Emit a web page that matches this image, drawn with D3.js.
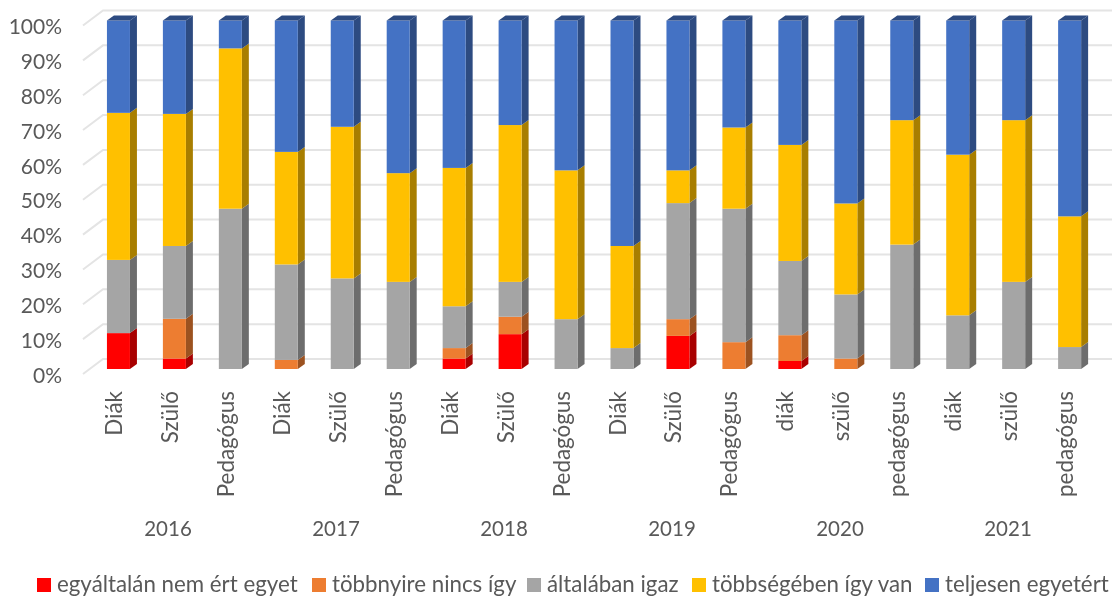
<!DOCTYPE html>
<html>
  <head>
    <meta charset="utf-8">
    <title>Stacked bars</title>
    <script src="https://cdn.jsdelivr.net/npm/d3@7"></script>
    <style>
      html, body { margin: 0; padding: 0; background: #fff; }
      svg { display: block; filter: blur(0.4px); }
      text { font-family: Lato, "Open Sans", sans-serif; fill: #595959; }
      .axis path, .axis line { display: none; }
    </style>
  </head>
  <body>
    <div id="chart"></div>
    <script>
      var groups = ["Diák", "Szülő", "Pedagógus", "Diák", "Szülő", "Pedagógus", "Diák", "Szülő", "Pedagógus",
                    "Diák", "Szülő", "Pedagógus", "diák", "szülő", "pedagógus", "diák", "szülő", "pedagógus"];
      var years = ["2016", "2017", "2018", "2019", "2020", "2021"];
      var seriesNames = ["egyáltalán nem ért egyet", "többnyire nincs így", "általában igaz", "többségében így van", "teljesen egyetért"];

      // percent of each answer, bar by bar
      var nemErt    = [10.3, 3, 0, 0, 0, 0, 3, 10, 0, 0, 9.5, 0, 2.3, 0, 0, 0, 0, 0];
      var tobbnyire = [0, 11.4, 0, 2.6, 0, 0, 3, 5, 0, 0, 4.8, 7.7, 7.4, 3, 0, 0, 0, 0];
      var altalaban = [21, 20.9, 46, 27.4, 26, 25, 12, 10, 14.3, 6, 33.3, 38.3, 21.3, 18.4, 35.7, 15.4, 25, 6.3];
      var tobbseg   = [42.2, 37.9, 46, 32.3, 43.5, 31.2, 39.7, 45, 42.7, 29.3, 9.4, 23.3, 33.3, 26.1, 35.7, 46.1, 46.4, 37.5];
      var teljesen  = [26.5, 26.8, 8, 37.7, 30.5, 43.8, 42.3, 30, 43, 64.7, 43, 30.7, 35.7, 52.5, 28.6, 38.5, 28.6, 56.2];

      var colors = ["#ff0000", "#ed7d31", "#a5a5a5", "#ffc000", "#4472c4"];
      var sideColors = ["#a80000", "#9c5220", "#6d6d6d", "#a87e00", "#2d4b81"];
      var allSeries = [nemErt, tobbnyire, altalaban, tobbseg, teljesen];

      var W = 1113, H = 598;
      var svg = d3.select("#chart").append("svg").attr("width", W).attr("height", H);

      var y = d3.scaleLinear().domain([0, 100]).range([369, 20.5]);
      var x = d3.scaleBand().domain(d3.range(groups.length)).range([84, 1104]).paddingInner(0.59).paddingOuter(0.41);
      var yearX = d3.scaleBand().domain(years).range([84, 1092]);

      var barW = 23, depthX = 7, depthY = 5;

      // back wall grid + left slanted bits
      var ticks = d3.range(0, 101, 10);
      svg.selectAll("path.grid").data(ticks).enter().append("path")
        .attr("class", "grid")
        .attr("d", function(d) {
          return "M83," + (y(d) + 5) + "L103," + (y(d) - 10) + "L1112," + (y(d) - 10);
        })
        .attr("fill", "none")
        .attr("stroke", "#e4e4e4")
        .attr("stroke-width", 2);

      // stacked data
      var rows = groups.map(function(g, i) {
        var r = { i: i };
        seriesNames.forEach(function(n, k) { r[n] = allSeries[k][i]; });
        return r;
      });
      var stacked = d3.stack().keys(seriesNames)(rows);

      stacked.forEach(function(layer, k) {
        var g = svg.append("g");
        var bars = layer.filter(function(d) { return d[1] - d[0] > 0; });
        // side
        g.selectAll("path.side").data(bars).enter().append("path")
          .attr("fill", sideColors[k])
          .attr("d", function(d) {
            var x1 = x(d.data.i) + barW;
            return "M" + x1 + "," + y(d[0]) + "L" + (x1 + depthX) + "," + (y(d[0]) - depthY) +
                   "L" + (x1 + depthX) + "," + (y(d[1]) - depthY) + "L" + x1 + "," + y(d[1]) + "Z";
          });
        // front
        g.selectAll("rect").data(bars).enter().append("rect")
          .attr("x", function(d) { return x(d.data.i); })
          .attr("y", function(d) { return y(d[1]); })
          .attr("width", barW)
          .attr("height", function(d) { return y(d[0]) - y(d[1]); })
          .attr("fill", colors[k]);
        // top face of the last layer
        if (k == seriesNames.length - 1) {
          g.selectAll("path.top").data(bars).enter().append("path")
            .attr("fill", sideColors[k])
            .attr("d", function(d) {
              var x0 = x(d.data.i);
              return "M" + x0 + "," + y(d[1]) + "L" + (x0 + depthX) + "," + (y(d[1]) - depthY) +
                     "L" + (x0 + barW + depthX) + "," + (y(d[1]) - depthY) + "L" + (x0 + barW) + "," + y(d[1]) + "Z";
            });
        }
      });

      // y axis
      svg.append("g").attr("class", "axis")
        .attr("transform", "translate(62,6.5)")
        .call(d3.axisLeft(y).tickValues(ticks).tickSize(0).tickPadding(0).tickFormat(function(d) { return d + "%"; }))
        .selectAll("text").style("font-size", "21px").style("font-family", "Lato").attr("fill", "#595959");

      // category labels
      svg.selectAll("text.cat").data(groups).enter().append("text")
        .attr("class", "cat")
        .attr("transform", function(d, i) { return "translate(" + (x(i) + 15) + ",391) rotate(-90)"; })
        .attr("text-anchor", "end")
        .style("font-size", "22.4px")
        .text(function(d) { return d; });

      // years
      svg.selectAll("text.year").data(years).enter().append("text")
        .attr("class", "year")
        .attr("x", function(d) { return yearX(d) + yearX.bandwidth() / 2; })
        .attr("y", 536)
        .attr("text-anchor", "middle")
        .style("font-size", "20.5px")
        .text(function(d) { return d; });

      // legend
      var legendX = [37, 312, 527, 692, 925];
      seriesNames.forEach(function(n, k) {
        svg.append("rect").attr("x", legendX[k]).attr("y", 578).attr("width", 14).attr("height", 14).attr("fill", colors[k]);
        svg.append("text").attr("x", legendX[k] + 20).attr("y", 592).style("font-size", "22.3px").text(n);
      });
    </script>
  </body>
</html>
